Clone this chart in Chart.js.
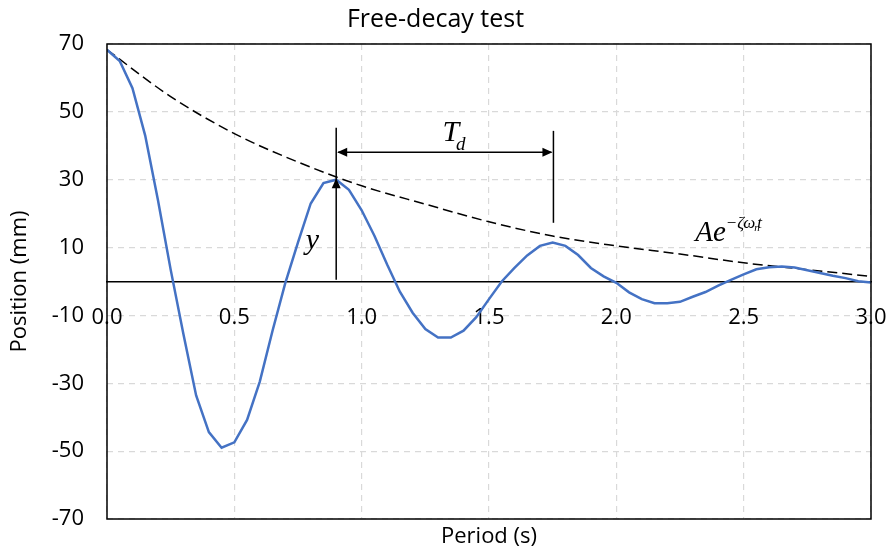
<!DOCTYPE html>
<html>
<head>
<meta charset="utf-8">
<script src="https://cdn.jsdelivr.net/npm/chart.js@4.4.1/dist/chart.umd.min.js"></script>
<style>
body { margin: 0; background: #fff; }
#wrap { width: 888px; height: 553px; }
</style>
</head>
<body>
<div id="wrap"><canvas id="myChart"></canvas></div>
<script>
// measured response, sampled every 0.05 s
const times = [0.00, 0.05, 0.10, 0.15, 0.20, 0.25, 0.30, 0.35, 0.40, 0.45,
	0.50, 0.55, 0.60, 0.65, 0.70, 0.75, 0.80, 0.85, 0.90, 0.95,
	1.00, 1.05, 1.10, 1.15, 1.20, 1.25, 1.30, 1.35, 1.40, 1.45,
	1.50, 1.55, 1.60, 1.65, 1.70, 1.75, 1.80, 1.85, 1.90, 1.95,
	2.00, 2.05, 2.10, 2.15, 2.20, 2.25, 2.30, 2.35, 2.40, 2.45,
	2.50, 2.55, 2.60, 2.65, 2.70, 2.75, 2.80, 2.85, 2.90, 2.95, 3.00];
const positions = [68.3, 65, 57, 43, 24, 3.5, -15.5, -33.6, -44.4, -49,
	-47.4, -40.8, -29.5, -14.5, -0.5, 11.5, 23, 29, 30, 27,
	21, 13.5, 5, -3, -9.2, -14, -16.5, -16.5, -14.5, -10.5,
	-5.2, 0, 4, 7.7, 10.5, 11.5, 10.5, 7.8, 4, 1.5,
	-0.4, -3.2, -5.2, -6.4, -6.4, -6, -4.5, -3.1, -1.2, 0.5,
	2.1, 3.6, 4.2, 4.4, 4.1, 3.3, 2.5, 1.7, 1.0, 0.1, -0.3];

// decay envelope
const envTimes = [0, 0.25, 0.5, 0.75, 1, 1.25, 1.5, 1.75, 2, 2.25, 2.5, 2.75, 3];
const envValues = [68.3, 54.5, 43.6, 35.2, 28.2, 22.8, 17.6, 13.4, 10.5, 8.1, 5.5, 3.5, 1.5];

const xTicks = [0, 0.5, 1, 1.5, 2, 2.5, 3];
const yTicks = [-70, -50, -30, -10, 10, 30, 50, 70];

// annotation anchors (data units)
const peakTime = 0.9;
const peakValue = 30.4;
const nextPeakTime = 1.753;
const markTop1 = 45.3;
const markTop2 = 44.4;
const markBottom2 = 17.3;
const tdArrowY = 38.1;

const font = "'Open Sans', 'Noto Sans', sans-serif";
const mathFont = "'Liberation Serif', 'DejaVu Serif', serif";

const arrowHead = (ctx, x, y, angle) => {
	ctx.save();
	ctx.translate(x, y);
	ctx.rotate(angle);
	ctx.beginPath();
	ctx.moveTo(0, 0);
	ctx.lineTo(-10, -4.5);
	ctx.lineTo(-10, 4.5);
	ctx.closePath();
	ctx.fill();
	ctx.restore();
};

const annotations = {
	id: "annotations",
	afterDatasetsDraw(chart) {
		const ctx = chart.ctx;
		const xs = chart.scales.x;
		const ys = chart.scales.y;
		const px = (v) => xs.getPixelForValue(v);
		const py = (v) => ys.getPixelForValue(v);
		ctx.save();
		ctx.strokeStyle = "#000";
		ctx.fillStyle = "#000";
		ctx.lineWidth = 1.5;
		// y marker
		ctx.beginPath();
		ctx.moveTo(px(peakTime), py(0.5));
		ctx.lineTo(px(peakTime), py(markTop1));
		ctx.stroke();
		arrowHead(ctx, px(peakTime), py(peakValue), -Math.PI / 2);
		// second peak marker
		ctx.beginPath();
		ctx.moveTo(px(nextPeakTime), py(markBottom2));
		ctx.lineTo(px(nextPeakTime), py(markTop2));
		ctx.stroke();
		// Td arrow
		ctx.beginPath();
		ctx.moveTo(px(peakTime) + 2, py(tdArrowY));
		ctx.lineTo(px(nextPeakTime) - 2, py(tdArrowY));
		ctx.stroke();
		arrowHead(ctx, px(peakTime) + 1, py(tdArrowY), Math.PI);
		arrowHead(ctx, px(nextPeakTime) - 1, py(tdArrowY), 0);
		// labels
		ctx.textBaseline = "alphabetic";
		ctx.textAlign = "left";
		ctx.font = "italic 30px " + mathFont;
		ctx.fillText("y", px(0.78), py(9.5));
		ctx.fillText("T", px(1.317), py(41.4));
		ctx.font = "italic 19px " + mathFont;
		ctx.fillText("d", px(1.37), py(38.8));
		ctx.font = "italic 29px " + mathFont;
		ctx.fillText("Ae", px(2.31), py(11.9));
		const ex = px(2.31) + ctx.measureText("Ae").width;
		ctx.font = "italic 17px " + mathFont;
		ctx.fillText("\u2212\u03B6\u03C9", ex, py(15.8));
		const nx = ex + ctx.measureText("\u2212\u03B6\u03C9").width;
		ctx.font = "italic 11px " + mathFont;
		ctx.fillText("n", nx - 1, py(15));
		ctx.font = "italic 17px " + mathFont;
		ctx.fillText("t", nx + 2, py(15.8));
		// plot frame
		const a = chart.chartArea;
		ctx.lineWidth = 1.5;
		ctx.strokeRect(a.left, a.top, a.right - a.left, a.bottom - a.top);
		ctx.restore();
	},
};

const noPadding = (scale) => {
	scale.paddingLeft = 0;
	scale.paddingRight = 0;
	scale.paddingTop = 0;
	scale.paddingBottom = 0;
};

const gridColor = "#d9d9d9";

const config = {
	type: "line",
	data: {
		datasets: [
			{
				label: "Position",
				data: times.map((t, i) => ({ x: t, y: positions[i] })),
				borderColor: "#4472C4",
				borderWidth: 2.5,
				pointRadius: 0,
				tension: 0,
				fill: false,
			},
			{
				label: "Envelope",
				data: envTimes.map((t, i) => ({ x: t, y: envValues[i] })),
				borderColor: "#000",
				borderWidth: 1.5,
				borderDash: [10, 5],
				pointRadius: 0,
				cubicInterpolationMode: "monotone",
				fill: false,
			},
		],
	},
	options: {
		responsive: true,
		maintainAspectRatio: false,
		animation: false,
		layout: { padding: { left: 0, right: 17, top: 0, bottom: 0 } },
		plugins: {
			legend: { display: false },
			tooltip: { enabled: false },
			title: {
				display: true,
				text: "Free-decay test",
				color: "#000",
				font: { family: font, size: 25, weight: "normal", lineHeight: 1.2 },
				padding: { top: 5, bottom: 9 },
			},
		},
		scales: {
			x: {
				type: "linear",
				position: "bottom",
				min: 0,
				max: 3,
				afterBuildTicks: (scale) => {
					scale.ticks = xTicks.map((v) => ({ value: v }));
				},
				afterFit: (scale) => {
					scale.height = 34;
					noPadding(scale);
				},
				ticks: { display: false },
				grid: { color: gridColor, lineWidth: 1.2, drawTicks: false },
				border: { display: false, dash: [6, 5] },
				title: {
					display: true,
					text: "Period (s)",
					color: "#000",
					font: { family: font, size: 22, lineHeight: 1.2 },
					padding: { top: 0, bottom: 3 },
				},
			},
			x2: {
				type: "linear",
				axis: "x",
				position: { y: 0 },
				min: 0,
				max: 3,
				afterBuildTicks: (scale) => {
					scale.ticks = xTicks.map((v) => ({ value: v }));
				},
				afterFit: noPadding,
				ticks: {
					color: "#000",
					font: { family: font, size: 22 },
					padding: 23,
					maxRotation: 0,
					autoSkip: false,
					callback: (v) => v.toFixed(1),
				},
				grid: { display: false, drawTicks: false },
				border: { display: true, color: "#000", width: 1.5 },
			},
			y: {
				type: "linear",
				min: -70,
				max: 70,
				afterBuildTicks: (scale) => {
					scale.ticks = yTicks.map((v) => ({ value: v }));
				},
				afterFit: (scale) => {
					scale.width = 107;
					noPadding(scale);
				},
				ticks: {
					color: "#000",
					font: { family: font, size: 22 },
					padding: 23,
				},
				grid: { color: gridColor, lineWidth: 1.2, drawTicks: false },
				border: { display: false, dash: [6, 5] },
				title: {
					display: true,
					text: "Position (mm)",
					color: "#000",
					font: { family: font, size: 22, lineHeight: 1.2 },
					padding: { top: 7, bottom: 0 },
				},
			},
		},
	},
	plugins: [annotations],
};

const myChart = new Chart(document.getElementById("myChart"), config);
</script>
</body>
</html>
